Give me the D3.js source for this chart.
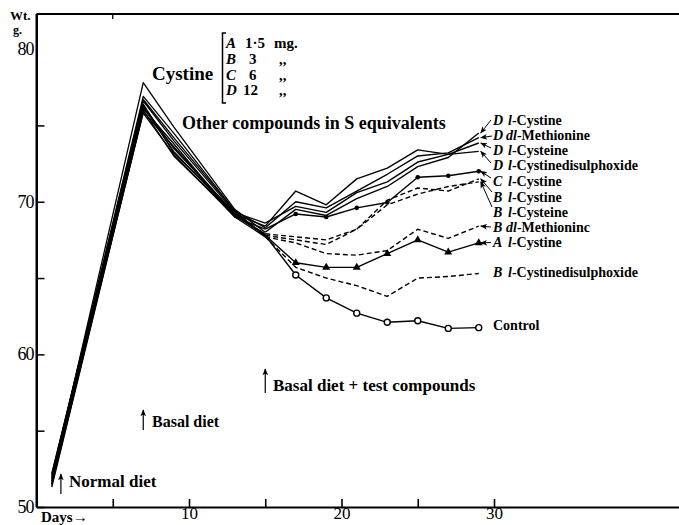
<!DOCTYPE html>
<html><head><meta charset="utf-8">
<script src="https://cdn.jsdelivr.net/npm/d3@7"></script>
<style>
body{margin:0;background:#fff}
svg{display:block}
text{font-family:"Liberation Serif","Times New Roman",serif;fill:#000}
</style>
</head><body>
<svg id="chart" width="679" height="525"></svg>
<script>
// ---------- DATA ----------
const days = [1, 7, 9, 13, 15, 17, 19, 21, 23, 25, 27, 29];
const dLCystine        = [51.8, 77.8, 74.9, 69.5, 68.0, 69.5, 69.1, 70.2, 71.0, 72.3, 72.9, 74.5];
const dDlMethionine    = [52.0, 76.9, 74.5, 69.4, 68.3, 70.0, 69.6, 70.7, 71.8, 73.0, 73.2, 74.2];
const dLCysteine       = [51.5, 76.6, 74.0, 69.3, 68.6, 69.7, 69.3, 70.6, 71.3, 72.6, 73.1, 73.85];
const dLCystineDisulph = [52.2, 76.3, 73.5, 69.2, 68.4, 70.7, 69.8, 71.5, 72.2, 73.4, 73.1, 73.3];
const cLCystine        = [51.6, 76.1, 73.8, 69.0, 68.2, 69.2, 69.0, 69.6, 69.95, 71.6, 71.7, 72.0];
const bLCystine        = [51.9, 76.4, 73.2, 69.3, 67.8, 67.5, 67.2, 68.2, 70.1, 70.9, 70.7, 71.5];
const bLCysteine       = [51.4, 76.0, 73.0, 69.1, 67.9, 67.7, 67.5, 68.2, 69.8, 70.5, 71.0, 71.3];
const bDlMethionine    = [52.1, 76.7, 74.2, 69.4, 67.7, 67.3, 66.6, 66.5, 66.8, 68.2, 67.6, 68.4];
const aLCystine        = [51.3, 75.9, 73.6, 69.2, 67.8, 66.0, 65.7, 65.7, 66.6, 67.5, 66.7, 67.3];
const bLCystineDisulph = [51.7, 75.8, 73.1, 69.0, 67.7, 65.7, 65.0, 64.5, 63.8, 65.0, 65.1, 65.3];
const control          = [51.5, 76.2, 73.3, 69.1, 67.8, 65.2, 63.7, 62.7, 62.1, 62.2, 61.7, 61.75];

const seriesValues = [dLCystine, dDlMethionine, dLCysteine, dLCystineDisulph, cLCystine,
  bLCystine, bLCysteine, bDlMethionine, aLCystine, bLCystineDisulph, control];
const seriesLetters = ["D", "D", "D", "D", "C", "B", "B", "B", "A", "B", ""];
const seriesPrefixes = ["l", "dl", "l", "l", "l", "l", "l", "dl", "l", "l", ""];
const seriesNames = ["-Cystine", "-Methionine", "-Cysteine", "-Cystinedisulphoxide", "-Cystine",
  "-Cystine", "-Cysteine", "-Methioninc", "-Cystine", "-Cystinedisulphoxide", "Control"];
const seriesDashed = [false, false, false, false, false, true, true, true, false, true, false];
const seriesMarker = ["", "", "", "", "dot", "", "", "", "triangle", "", "circle"];

const yTickValues = [50, 55, 60, 65, 70, 75];
const yTickLabels = [50, 60, 70, 80];
const xTickValues = [5, 10, 15, 20, 25, 30];
const xTickLabels = [10, 20, 30];
const legendLetters = ["A", "B", "C", "D"];
const legendAmounts = ["1·5", "3", "6", "12"];
const legendUnits = ["mg.", ",,", ",,", ",,"];

// ---------- LAYOUT ----------
const W = 679, H = 525;
const svg = d3.select("#chart");
const x = d3.scaleLinear().domain([0, (679 - 36.5) / 15.25]).range([36.5, 679]);
const y = d3.scaleLinear().domain([50, 82.3]).range([507, 14]);
const serif = '"Liberation Serif","Times New Roman",serif';

const defs = svg.append("defs");
defs.append("marker").attr("id", "ah").attr("viewBox", "0 0 10 10")
  .attr("refX", 9).attr("refY", 5).attr("markerWidth", 7).attr("markerHeight", 7)
  .attr("markerUnits", "userSpaceOnUse").attr("orient", "auto")
  .append("path").attr("d", "M0,1 L10,5 L0,9 L2.5,5 Z").attr("fill", "#000");

// ---------- AXES ----------
const xAxis = d3.axisBottom(x).tickValues(xTickValues).tickSizeInner(-8).tickSizeOuter(0)
  .tickFormat(d => xTickLabels.includes(d) ? d : "");
const gx = svg.append("g").attr("transform", `translate(0,${y(50)})`).call(xAxis);
gx.select(".domain").attr("stroke-width", 2.2);
gx.selectAll(".tick line").attr("stroke-width", 1.6);
gx.selectAll(".tick text").attr("font-family", serif).attr("font-size", 17).attr("dy", "0.55em").attr("y", 3);

const yAxis = d3.axisLeft(y).tickValues(yTickValues).tickSizeInner(-8).tickSizeOuter(0)
  .tickFormat(() => "");
const gy = svg.append("g").attr("transform", `translate(${x(0)},0)`).call(yAxis);
gy.select(".domain").attr("stroke-width", 2);
gy.selectAll(".tick line").attr("stroke-width", 1.5);
svg.append("line").attr("x1", x(0)).attr("x2", x(0)).attr("y1", y(82.3)).attr("y2", y(50))
  .attr("stroke", "#000").attr("stroke-width", 2);
svg.append("line").attr("x1", x(0)).attr("x2", W).attr("y1", y(82.3)).attr("y2", y(82.3))
  .attr("stroke", "#000").attr("stroke-width", 2);
svg.append("line").attr("x1", x(5)).attr("x2", x(5)).attr("y1", y(82.3)).attr("y2", y(82.3) + 5)
  .attr("stroke", "#000").attr("stroke-width", 1.3);

svg.selectAll("text.ylab").data(yTickLabels).enter().append("text")
  .attr("class", "ylab").attr("x", x(0) - 3).attr("y", d => y(d) + 6)
  .attr("text-anchor", "end").attr("font-size", 18).attr("letter-spacing", -1).text(d => d);

svg.append("text").attr("x", 10).attr("y", 20).attr("font-size", 13).attr("font-weight", "bold").text("Wt.");
svg.append("text").attr("x", 13).attr("y", 34).attr("font-size", 12).attr("font-weight", "bold").text("g.");
svg.append("text").attr("x", 41).attr("y", 522).attr("font-size", 15).attr("font-weight", "bold").text("Days\u2192");

// ---------- LINES ----------
const earlyN = 5;
const lineGen = d3.line().x(d => x(d[0])).y(d => y(d[1]));
const gLines = svg.append("g").attr("fill", "none").attr("stroke", "#000");
seriesValues.forEach((vals, i) => {
  const pts = days.map((d, j) => [d, vals[j]]);
  gLines.append("path").attr("d", lineGen(pts.slice(0, earlyN)))
    .attr("stroke-width", 1.3).attr("stroke-linejoin", "round");
  gLines.append("path").attr("d", lineGen(pts.slice(earlyN - 1)))
    .attr("stroke-width", 1.4).attr("stroke-linejoin", "round")
    .attr("stroke-dasharray", seriesDashed[i] ? "5,3" : null);
});

seriesValues.forEach((vals, i) => {
  const m = seriesMarker[i];
  if (!m) return;
  const pts = days.map((d, j) => [d, vals[j]]).slice(earlyN);
  const g = svg.append("g");
  if (m === "dot") {
    g.selectAll("circle").data(pts).enter().append("circle")
      .attr("cx", d => x(d[0])).attr("cy", d => y(d[1])).attr("r", 2.3).attr("fill", "#000");
  } else if (m === "triangle") {
    g.selectAll("path").data(pts).enter().append("path")
      .attr("transform", d => `translate(${x(d[0])},${y(d[1])})`)
      .attr("d", d3.symbol(d3.symbolTriangle, 28)).attr("fill", "#000");
  } else if (m === "circle") {
    g.selectAll("circle").data(pts).enter().append("circle")
      .attr("cx", d => x(d[0])).attr("cy", d => y(d[1])).attr("r", 3)
      .attr("fill", "#fff").attr("stroke", "#000").attr("stroke-width", 1.4);
  }
});

// ---------- RIGHT LABELS ----------
const labelBaselines = [125, 140, 155, 170, 186, 201.5, 217, 231.5, 246.5, 276.5, 330];
const arrowStarts = [[491, 120], [492, 136], [491, 148], [491, 163], [491, 178], [492, 192], [492, 207], [491, 227], [491, 242.5], null, null];
seriesValues.forEach((vals, i) => {
  const t = svg.append("text").attr("x", 493).attr("y", labelBaselines[i])
    .attr("font-size", 14).attr("font-weight", "bold");
  if (seriesLetters[i]) {
    t.append("tspan").attr("font-style", "italic").text(seriesLetters[i]);
    t.append("tspan").attr("x", seriesPrefixes[i] === "dl" ? 506 : 508)
      .attr("font-style", "italic").text(seriesPrefixes[i]);
    t.append("tspan").text(seriesNames[i]);
  } else {
    t.text(seriesNames[i]);
  }
  const s = arrowStarts[i];
  if (s) {
    const last = vals[vals.length - 1];
    svg.append("line").attr("x1", s[0]).attr("y1", s[1])
      .attr("x2", x(29) + 2).attr("y2", y(last))
      .attr("stroke", "#000").attr("stroke-width", 1)
      .attr("marker-end", "url(#ah)");
  }
});

// ---------- LEGEND ----------
svg.append("text").attr("x", 152).attr("y", 80).attr("font-size", 19).attr("font-weight", "bold").text("Cystine");
svg.append("path").attr("d", "M226,33 L222.5,33 L222.5,103 L226,103").attr("fill", "none")
  .attr("stroke", "#000").attr("stroke-width", 1.5);
const legendBase = [48, 64, 80, 95];
legendLetters.forEach((L, i) => {
  svg.append("text").attr("x", 226).attr("y", legendBase[i]).attr("font-size", 15)
    .attr("font-weight", "bold").attr("font-style", "italic").text(L);
  svg.append("text").attr("x", i === 3 ? 243 : (i === 0 ? 245 : 249)).attr("y", legendBase[i]).attr("font-size", 15)
    .attr("font-weight", "bold").text(legendAmounts[i]);
  svg.append("text").attr("x", i === 0 ? 274 : 279).attr("y", legendBase[i]).attr("font-size", 15)
    .attr("font-weight", "bold").text(legendUnits[i]);
});
svg.append("text").attr("x", 182).attr("y", 129).attr("font-size", 18).attr("font-weight", "bold")
  .text("Other compounds in S equivalents");

// ---------- DIET ANNOTATIONS ----------
function upArrow(xd, y1, y2) {
  svg.append("line").attr("x1", x(xd)).attr("x2", x(xd)).attr("y1", y1).attr("y2", y2)
    .attr("stroke", "#000").attr("stroke-width", 1.2).attr("marker-end", "url(#ah)");
}
upArrow(1.6, 494, 474);
svg.append("text").attr("x", 69).attr("y", 487).attr("font-size", 17).attr("font-weight", "bold").text("Normal diet");
upArrow(7, 430, 410);
svg.append("text").attr("x", 152).attr("y", 427).attr("font-size", 16).attr("font-weight", "bold").text("Basal diet");
upArrow(15, 393, 369);
svg.append("text").attr("x", 273).attr("y", 391).attr("font-size", 17).attr("font-weight", "bold").text("Basal diet + test compounds");
</script>
</body></html>
